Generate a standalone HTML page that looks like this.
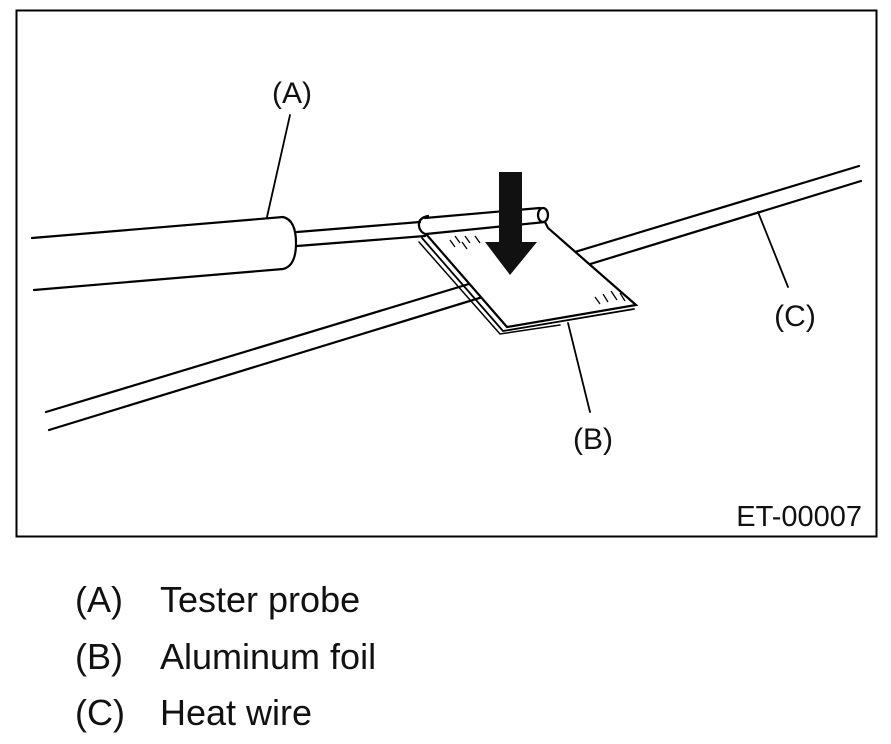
<!DOCTYPE html>
<html><head><meta charset="utf-8"><style>
html,body{margin:0;padding:0;background:#fff;}
body{width:891px;height:744px;overflow:hidden;position:relative;font-family:"Liberation Sans",sans-serif;}
.leg{position:absolute;font-size:36px;line-height:42px;color:#111;}
</style></head><body>
<svg width="891" height="744" style="position:absolute;left:0;top:0">
<rect x="16.5" y="10.5" width="860" height="526" fill="none" stroke="#000" stroke-width="2"/>
<g stroke="#000" stroke-width="2.2" fill="none" stroke-linecap="round">
<line x1="46" y1="412" x2="859" y2="166"/>
<line x1="49" y1="430" x2="861" y2="181"/>
<path d="M32 238 L283 217 Q296 220 296 243 Q296 266 283 269 L34 290" fill="#fff"/>
<line x1="297" y1="232" x2="420" y2="222"/>
<line x1="297" y1="246" x2="425" y2="236"/>
<path d="M425 218 L540 208" />
<ellipse cx="543" cy="215" rx="5" ry="7" fill="#fff"/>
<path d="M428 216 Q418 218 419 226 Q420 233 428 235" />
<path d="M426 234 L545 222 L548 228 L636 305 L507 327 Z" fill="#fff"/>
<path d="M422 238 L503 331 L634 309" stroke-width="1.8"/>
<path d="M419 242 L500 334 L560 325" stroke-width="1.5"/>
<line x1="290" y1="115" x2="267" y2="217" stroke-width="1.8"/>
<line x1="758" y1="212" x2="788" y2="287" stroke-width="1.8"/>
<line x1="568" y1="323" x2="590" y2="412" stroke-width="1.8"/>
</g>
<g stroke="#000" stroke-width="1.3">
<line x1="455" y1="236" x2="460" y2="243"/><line x1="465" y1="236" x2="470" y2="243"/><line x1="475" y1="236" x2="480" y2="243"/>
<line x1="450" y1="240" x2="455" y2="247"/><line x1="462" y1="242" x2="467" y2="249"/>
<line x1="595" y1="297" x2="600" y2="304"/><line x1="603" y1="294" x2="608" y2="302"/><line x1="611" y1="291" x2="617" y2="300"/><line x1="620" y1="293" x2="625" y2="301"/>
</g>
<polygon points="499,172 522,172 522,242 537,242 510,275 485,242 499,242" fill="#111"/>
<g font-family="Liberation Sans, sans-serif" font-size="30" fill="#111" text-anchor="middle">
<text x="292" y="103">(A)</text>
<text x="795" y="326">(C)</text>
<text x="593" y="449">(B)</text>
</g>
<text x="862" y="526" font-family="Liberation Sans, sans-serif" font-size="29" fill="#111" text-anchor="end">ET-00007</text>
</svg>
<div class="leg" style="left:75px;top:579px">(A)</div><div class="leg" style="left:160px;top:579px">Tester probe</div>
<div class="leg" style="left:75px;top:636px">(B)</div><div class="leg" style="left:160px;top:636px">Aluminum foil</div>
<div class="leg" style="left:75px;top:692px">(C)</div><div class="leg" style="left:160px;top:692px">Heat wire</div>
</body></html>
